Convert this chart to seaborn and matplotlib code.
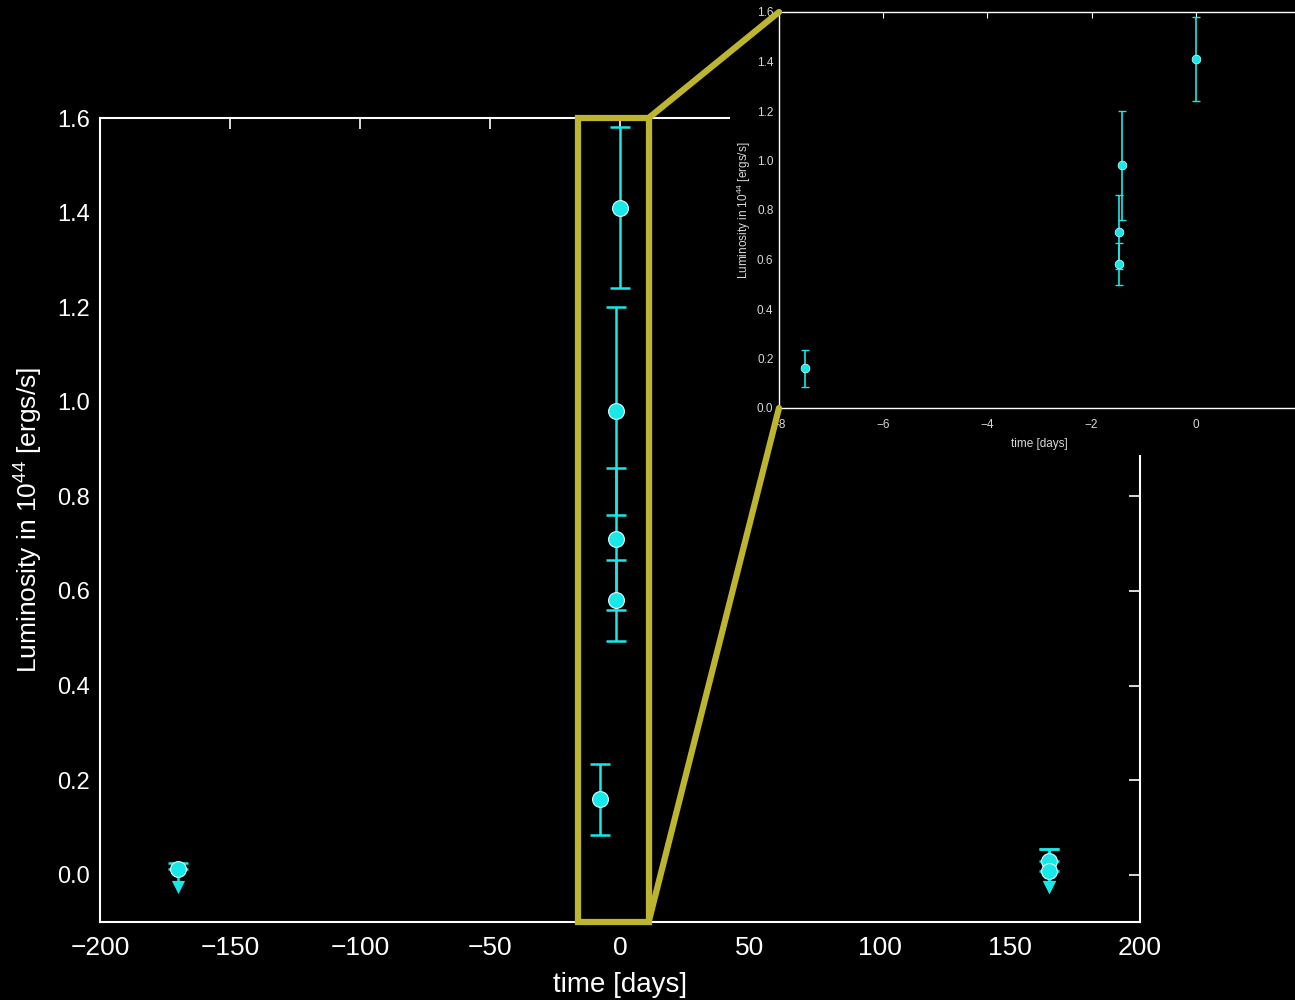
import numpy as np
import matplotlib
matplotlib.use("Agg")
import matplotlib.pyplot as plt
from matplotlib.patches import Rectangle, ConnectionPatch
import pandas as pd
import seaborn as sns

# detections near peak (days, 1e44 erg/s)
t_det = [-7.5, -1.48, -1.48, -1.42, 0.0]
lum_det = [0.16, 0.58, 0.71, 0.98, 1.41]
err_det = [0.075, 0.085, 0.15, 0.22, 0.17]

# upper limits far from peak
t_lim = [-170, 165, 165]
lum_lim = [0.012, 0.03, 0.008]
lim_top = [0.025, 0.055, 0.055]
lim_arrow = [-0.025, -0.025, -0.025]

zoom_t = [-16, 11]
main_ticks_x = [-200, -150, -100, -50, 0, 50, 100, 150, 200]
main_ticks_y = [0.0, 0.2, 0.4, 0.6, 0.8, 1.0, 1.2, 1.4, 1.6]
inset_ticks_x = [-8, -6, -4, -2, 0]

cyan = "#18e8e8"
yellow = "#bdb52f"
ylab = r"Luminosity in $10^{44}$ [ergs/s]"

sns.set_style("dark", {"axes.facecolor": "black", "figure.facecolor": "black"})
plt.rcParams['font.family'] = ['Liberation Sans', 'DejaVu Sans']
plt.rcParams['mathtext.fontset'] = 'custom'
plt.rcParams['mathtext.rm'] = 'Liberation Sans'

det = pd.DataFrame({"t": t_det, "L": lum_det})
lim = pd.DataFrame({"t": t_lim, "L": lum_lim})

fig = plt.figure(figsize=(12.95, 10), dpi=100)
fig.patch.set_facecolor("black")

ax = fig.add_axes([100/1295, 78/1000, 1040/1295, 804/1000])
ax.set_facecolor("black")

ax.errorbar(t_det, lum_det, yerr=err_det, fmt="none", ecolor=cyan,
            elinewidth=1.8, capsize=7, capthick=1.8, zorder=2)
lo = np.array(lum_lim) - np.array(lim_arrow)
hi = np.array(lim_top) - np.array(lum_lim)
zero = np.zeros(len(t_lim))
ax.errorbar(t_lim, lum_lim, yerr=[zero, hi], fmt="none", ecolor=cyan,
            elinewidth=1.8, capsize=7, capthick=1.8, zorder=2)
ax.errorbar(t_lim, lum_lim, yerr=[lo, zero], fmt="none", ecolor=cyan,
            elinewidth=1.8, capsize=0, zorder=2)
ax.scatter(t_lim, lim_arrow, marker="v", s=90, color=cyan, zorder=3, linewidths=0)
sns.scatterplot(data=det, x="t", y="L", ax=ax, s=130, color=cyan,
                edgecolor="#d8ffff", linewidth=0.8, zorder=4, legend=False)
sns.scatterplot(data=lim, x="t", y="L", ax=ax, s=130, color=cyan,
                edgecolor="#d8ffff", linewidth=0.8, zorder=4, legend=False)

ax.add_patch(Rectangle((zoom_t[0], -0.1), zoom_t[1] - zoom_t[0], 1.7, fill=False,
                       edgecolor=yellow, linewidth=4.5, zorder=5, clip_on=False))

ax.set_xlim(-200, 200)
ax.set_ylim(-0.1, 1.6)
ax.set_xticks(main_ticks_x)
ax.set_yticks(main_ticks_y)
ax.set_xticklabels([str(v).replace("-", "\u2212") for v in main_ticks_x], fontsize=19)
ax.set_yticklabels([f"{v:.1f}" for v in main_ticks_y], fontsize=17)
ax.tick_params(colors="white", direction="in", length=8, width=1.2,
               top=True, right=True, labelcolor="white")
ax.tick_params(axis="x", pad=10)
ax.tick_params(axis="y", pad=7)
for s in ax.spines.values():
    s.set_color("white")
    s.set_linewidth(1.5)
ax.set_xlabel("time [days]", color="white", fontsize=20, labelpad=9)
ax.set_ylabel(ylab, color="white", fontsize=19, labelpad=10)
ax.grid(False)

# black backdrop for the pasted-in zoom panel
fig.patches.append(Rectangle((730/1295, 545/1000), 565/1295, 455/1000,
                             transform=fig.transFigure, facecolor="black",
                             edgecolor="none", zorder=2))

ins = fig.add_axes([779/1295, 592/1000, 521/1295, 396/1000], zorder=3)
ins.set_facecolor("black")
ins.errorbar(t_det, lum_det, yerr=err_det, fmt="none", ecolor=cyan,
             elinewidth=1.2, capsize=3, capthick=1.0, zorder=2)
sns.scatterplot(data=det, x="t", y="L", ax=ins, s=40, color=cyan,
                edgecolor="#d8ffff", linewidth=0.5, zorder=3, legend=False)
ins.set_xlim(-8, 2)
ins.set_ylim(0, 1.6)
ins.set_xticks(inset_ticks_x)
ins.set_yticks(main_ticks_y)
ins.set_xticklabels([str(v).replace("-", "\u2212") for v in inset_ticks_x], fontsize=8.5)
ins.set_yticklabels([f"{v:.1f}" for v in main_ticks_y], fontsize=8.5)
ins.tick_params(colors="white", direction="in", length=4, width=0.8,
                top=True, right=False, labelcolor="#d8d8d8", pad=4)
ins.tick_params(axis="x", pad=8)
for s in ins.spines.values():
    s.set_color("white")
    s.set_linewidth(1.0)
ins.set_xlabel("time [days]", color="#d8d8d8", fontsize=8.5, labelpad=5)
ins.set_ylabel(ylab, color="#d8d8d8", fontsize=8.5, labelpad=3)
ins.grid(False)

for ya, yb in [(1.6, 1.6), (-0.1, 0.0)]:
    con = ConnectionPatch(xyA=(zoom_t[1], ya), coordsA=ax.transData,
                          xyB=(-8, yb), coordsB=ins.transData,
                          color=yellow, linewidth=4.5, zorder=6)
    fig.add_artist(con)

fig.savefig("out.png", dpi=100, facecolor="black")
